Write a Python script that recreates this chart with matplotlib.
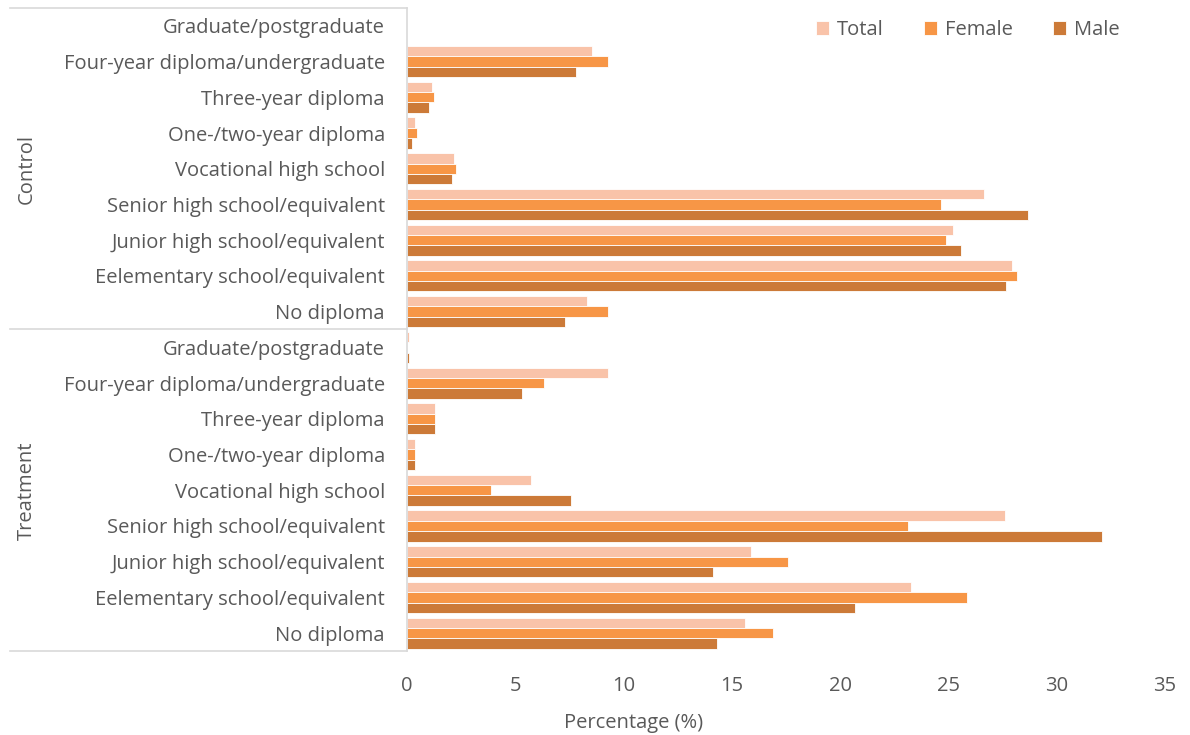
import numpy as np
import matplotlib.pyplot as plt

plt.rcParams['font.family'] = ['Open Sans', 'DejaVu Sans']

# Education levels, top to bottom within each group
levels = ['Graduate/postgraduate', 'Four-year diploma/undergraduate', 'Three-year diploma',
          'One-/two-year diploma', 'Vocational high school', 'Senior high school/equivalent',
          'Junior high school/equivalent', 'Eelementary school/equivalent', 'No diploma']
groups = ['Control', 'Treatment']

# Percentages (%), same order as levels
control_total = [0, 8.56, 1.14, 0.36, 2.16, 26.63, 25.22, 27.92, 8.31]
control_female = [0, 9.30, 1.25, 0.48, 2.25, 24.65, 24.90, 28.18, 9.30]
control_male = [0, 7.80, 1.02, 0.23, 2.08, 28.69, 25.56, 27.64, 7.29]

treat_total = [0.07, 9.30, 1.28, 0.37, 5.71, 27.60, 15.87, 23.29, 15.60]
treat_female = [0, 6.32, 1.28, 0.37, 3.88, 23.15, 17.58, 25.85, 16.90]
treat_male = [0.10, 5.31, 1.28, 0.37, 7.57, 32.07, 14.13, 20.70, 14.31]

series = ['Total', 'Female', 'Male']
colors = ['#F9C3A9', '#F79646', '#CC7A38']
values = [control_total + treat_total,
          control_female + treat_female,
          control_male + treat_male]

text_col = '#595959'
line_col = '#D9D9D9'

fig = plt.figure(figsize=(11.9, 7.35), dpi=100)
ax = fig.add_axes([407 / 1190, 1 - 651 / 735, (1165 - 407) / 1190, (651 - 8) / 735])

n = len(levels) * len(groups)
y = np.arange(n)
h = 0.29
for i, (name, vals, c) in enumerate(zip(series, values, colors)):
    ax.barh(y + (i - 1) * h, vals, height=h, color=c, edgecolor='white',
            linewidth=0.6, label=name)

ax.set_ylim(n - 0.5, -0.5)
ax.set_xlim(0, 35)
ax.set_xticks(np.arange(0, 36, 5))
ax.set_yticks(y)
ax.set_yticklabels(levels * len(groups))
ax.tick_params(axis='y', length=0, pad=16, labelsize=14.5, labelcolor=text_col)
ax.tick_params(axis='x', length=0, pad=18, labelsize=14.5, labelcolor=text_col)
for s in ['top', 'right', 'bottom']:
    ax.spines[s].set_visible(False)
ax.spines['left'].set_color(line_col)
ax.spines['left'].set_linewidth(1.2)

# group separators and labels
trans = ax.get_yaxis_transform()
x0 = -(407 - 10) / (1165 - 407)
for b in [-0.5, 8.5, 17.5]:
    ax.plot([x0, 0], [b, b], color=line_col, lw=1.2, transform=trans, clip_on=False)
for k, g in enumerate(groups):
    ax.text((27 - 407) / (1165 - 407), k * 9 + 4, g, transform=trans, rotation=90,
            ha='center', va='center', fontsize=14.5, color=text_col)

ax.set_xlabel('Percentage (%)', fontsize=14.5, color=text_col)
ax.xaxis.set_label_coords((634 - 407) / (1165 - 407), -0.097)

ax.legend(loc='center', bbox_to_anchor=((968 - 407) / (1165 - 407), 1 - (30 - 8) / (651 - 8)),
          ncol=3, frameon=False, fontsize=14.5, labelcolor=text_col,
          handlelength=0.65, handleheight=0.65, handletextpad=0.4, columnspacing=2.0)

fig.savefig('out.png', dpi=100)
